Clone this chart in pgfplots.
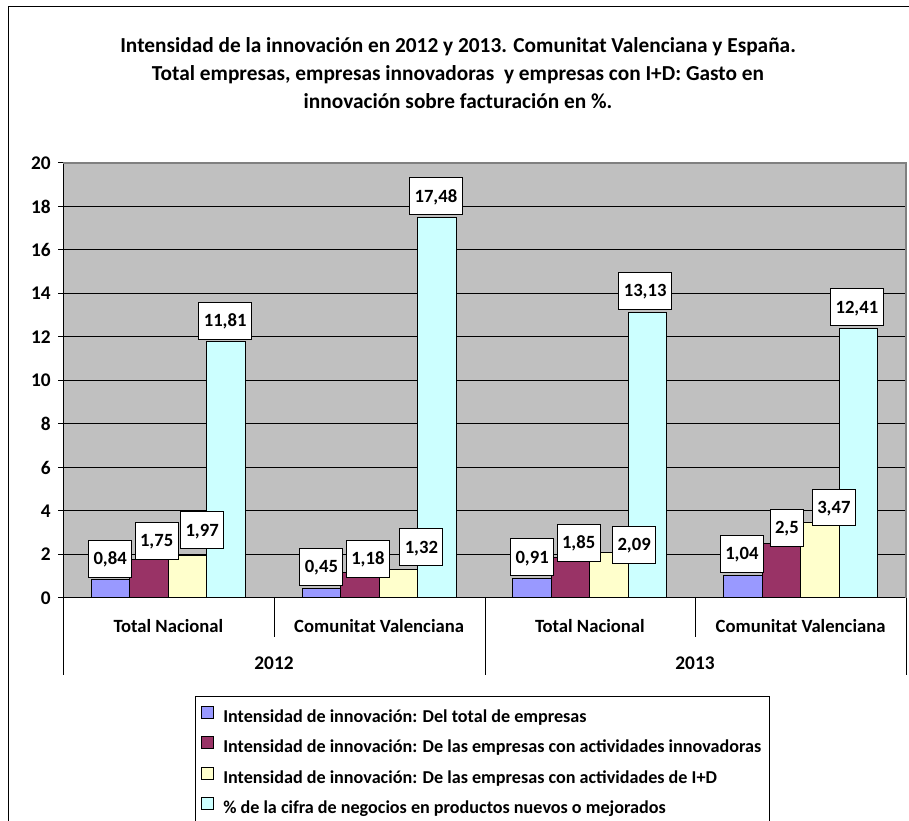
\documentclass[border=0pt]{standalone}
\usepackage{pgfplots}
\pgfplotsset{compat=1.18}
\usepackage{pgfplotstable}
\usepackage{fontspec}
\setmainfont{Carlito}
\definecolor{sA}{HTML}{9999FF}
\definecolor{sB}{HTML}{993366}
\definecolor{sC}{HTML}{FFFFCC}
\definecolor{sD}{HTML}{CCFFFF}
\definecolor{plotgray}{HTML}{C0C0C0}

\pgfplotstableread{
x y lab
0 0.84 0,84
1 0.45 0,45
2 0.91 0,91
3 1.04 1,04
}\tA
\pgfplotstableread{
x y lab
0 1.75 1,75
1 1.18 1,18
2 1.85 1,85
3 2.5 2,5
}\tB
\pgfplotstableread{
x y lab
0 1.97 1,97
1 1.32 1,32
2 2.09 2,09
3 3.47 3,47
}\tC
\pgfplotstableread{
x y lab
0 11.81 11,81
1 17.48 17,48
2 13.13 13,13
3 12.41 12,41
}\tD

\pgfplotsset{lbl/.style={
  fill=#1, draw=black, line width=0.75pt,
  point meta=explicit symbolic,
  nodes near coords,
  every node near coord/.append style={anchor=center, draw=black, fill=white, line width=0.75pt,
     font=\fontsize{14}{16}\selectfont\bfseries, inner xsep=3.75pt, inner ysep=9.4pt,
     text height=8.9pt, text depth=0pt}},
  sh/.style n args={3}{coordinate style/.condition={\coordindex==#1}{xshift=#2pt, yshift=#3pt}}}

\begin{document}
\bfseries
\begin{tikzpicture}
\useasboundingbox (0,0) rectangle (681.75pt,615pt);
\begin{scope}[yshift=615pt, x=0.75pt, y=-0.75pt]
  \draw[black, line width=0.75pt] (8,830) -- (8,7) -- (920,7);
  \node[align=center, font=\fontsize{16}{21}\selectfont\bfseries] at (458,73)
    {Intensidad de la innovación en 2012 y 2013. Comunitat Valenciana y España.\\
     Total empresas, empresas innovadoras \ y empresas con I+D: Gasto en\\
     innovación sobre facturación en \%.};
  \draw[black, line width=0.75pt] (195,830) -- (195,697) -- (769,697) -- (769,830);
\end{scope}
\begin{axis}[
  at={(47.25pt,166.5pt)}, anchor=south west,
  scale only axis, width=632.25pt, height=326.25pt,
  xmin=-0.5, xmax=3.5, ymin=0, ymax=20,
  enlargelimits=false,
  axis background/.style={fill=plotgray},
  axis x line*=bottom, axis y line*=left,
  axis line style={black, line width=0.75pt},
  ytick={0,2,...,20},
  ymajorgrids, grid style={black, line width=0.75pt},
  tick align=outside, major tick length=3.75pt,
  ytick style={black, line width=0.75pt},
  xtick={0,1,2,3}, xtick style={draw=none},
  xticklabels={Total Nacional, Comunitat Valenciana, Total Nacional, Comunitat Valenciana},
  x tick label style={font=\fontsize{14}{16}\selectfont\bfseries, yshift=-9pt},
  y tick label style={font=\fontsize{14.5}{16}\selectfont\bfseries, xshift=-2pt},
  /pgf/number format/assume math mode=true,
  ybar=0pt, bar width=28.875pt,
  legend style={at={(axis description cs:0.1637,-0.2483)}, anchor=north west,
     draw=none, fill=none, inner sep=0pt, row sep=7.25pt, column sep=6.75pt,
     font=\fontsize{13.6}{16}\selectfont\bfseries,
     nodes={inner sep=0pt, text height=10pt, text depth=3pt}},
  legend cell align=left,
  legend image code/.code={\draw[#1, draw=black, line width=0.75pt] (0pt,-0.5pt) rectangle (9pt,8.5pt);},
]
\addplot[lbl=sA, sh={0}{-0.375}{15.75}, sh={1}{0}{16.125}, sh={2}{0}{15.75}, sh={3}{-0.75}{16.05}]
  table[x=x, y=y, meta=lab] {\tA};
\addplot[lbl=sB, sh={0}{5.625}{14.25}, sh={1}{6}{10.125}, sh={2}{6}{11.25}, sh={3}{4.125}{11.7}]
  table[x=x, y=y, meta=lab] {\tB};
\addplot[lbl=sC, sh={0}{10.875}{18.75}, sh={1}{17.25}{16.5}, sh={2}{18.75}{6}, sh={3}{10.5}{11.25}]
  table[x=x, y=y, meta=lab] {\tC};
\addplot[lbl=sD, sh={0}{-0.75}{15.375}, sh={1}{-0.75}{16.125}, sh={2}{-1.875}{16.05}, sh={3}{-1.125}{15.75}]
  table[x=x, y=y, meta=lab] {\tD};
\legend{Intensidad de innovación: Del total de empresas,
        Intensidad de innovación: De las empresas con actividades innovadoras,
        Intensidad de innovación: De las empresas con actividades de I+D,
        \% de la cifra de negocios en productos nuevos o mejorados}
\end{axis}
\begin{scope}[yshift=615pt, x=0.75pt, y=-0.75pt]
  \draw[gray, line width=1pt] (63,163) -- (906,163) -- (906,598);
  \draw[black, line width=0.75pt] (63,598) -- (63,675) (274,598) -- (274,637)
     (485,598) -- (485,675) (695,598) -- (695,637) (906,598) -- (906,675);
  \node[font=\fontsize{14.5}{16}\selectfont\bfseries] at (274,663) {2012};
  \node[font=\fontsize{14.5}{16}\selectfont\bfseries] at (695,663) {2013};
\end{scope}
\end{tikzpicture}
\end{document}
